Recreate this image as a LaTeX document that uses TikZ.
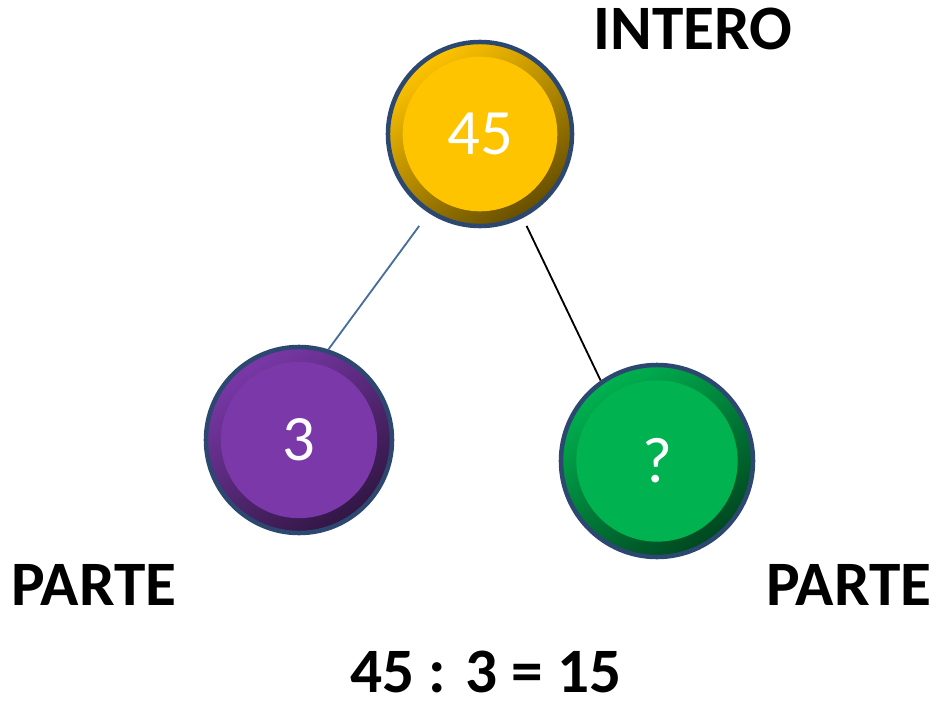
\documentclass[tikz,border=0pt]{standalone}
\usepackage{fontspec}
\setmainfont{Carlito}
\definecolor{rim}{RGB}{44,72,112}
\definecolor{stick}{RGB}{70,108,160}
\definecolor{gold}{RGB}{255,196,0}
\definecolor{violet}{RGB}{122,56,168}
\definecolor{leaf}{RGB}{0,178,80}
\tikzset{
  ball/.style 2 args={circle, draw=rim, line width=3.2pt, minimum size=#2,
    top color=#1, bottom color=#1!40!black, shading angle=35, text=white,
    font=\fontsize{46}{46}\selectfont,
    path picture={\fill[#1] (path picture bounding box.center) circle ({0.42*#2});}},
  word/.style={inner sep=0pt, font=\fontsize{45}{45}\selectfont\bfseries}
}

\begin{document}
\begin{tikzpicture}[x=0.025cm,y=-0.025cm]
\useasboundingbox (0,0) rectangle (936,710);
\node[ball={gold}{4.6cm}] (whole) at (480,134) {45};
\node[ball={violet}{4.65cm}] (left) at (299,440) {3};
\node[ball={leaf}{4.8cm}] (right) at (657,461) {?};
\draw[stick, line width=1.3pt, shorten <=0.4cm] (whole.237) -- (left.72);
\draw[black, line width=1.3pt, shorten <=0.22cm] (whole.297) -- (right.125);
\node[word] (intero) at (693,29) {INTERO};
\node[word] (parteL) at (94,585) {PARTE};
\node[word] (parteR) at (849,585) {PARTE};
\node[word] (sum) at (486,672) {45 : 3 = 15};
\end{tikzpicture}
\end{document}
